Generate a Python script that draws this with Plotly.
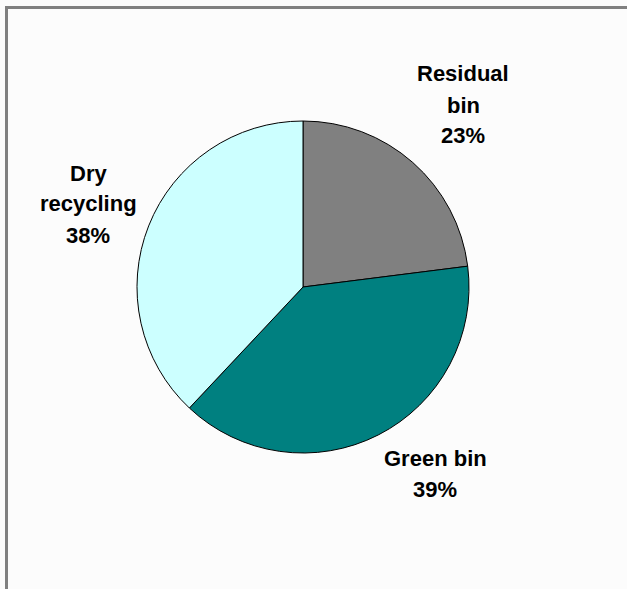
import plotly.graph_objects as go

labels = ["Residual bin", "Green bin", "Dry recycling"]
values = [23, 39, 38]
colors = ["#808080", "#008080", "#CCFFFF"]
label_lines = [["Residual", "bin", "23%"], ["Green bin", "39%"], ["Dry", "recycling", "38%"]]

W, H = 627, 589
cx, cy, r = 303, 287, 166

fig = go.Figure(go.Pie(
    labels=labels, values=values, sort=False, direction="clockwise", rotation=0,
    marker=dict(colors=colors, line=dict(color="black", width=1)),
    textinfo="none", hoverinfo="label+percent", showlegend=False,
    domain=dict(x=[(cx - r) / W, (cx + r) / W], y=[1 - (cy + r) / H, 1 - (cy - r) / H]),
))

label_pos = [(463, 105), (435, 474), (88, 204)]
spacing = 31
for lines, (px, py) in zip(label_lines, label_pos):
    n = len(lines)
    for i, line in enumerate(lines):
        ly = py + (i - (n - 1) / 2) * spacing
        fig.add_annotation(x=px / W, y=1 - ly / H, xref="paper", yref="paper",
                           text="<b>" + line + "</b>",
                           showarrow=False, xanchor="center", yanchor="middle",
                           font=dict(family="Liberation Sans, Arial, sans-serif", size=22, color="black"))

fig.add_shape(type="line", xref="paper", yref="paper", x0=5 / W, x1=1, y0=1 - 7.5 / H, y1=1 - 7.5 / H,
              line=dict(color="#808080", width=3))
fig.add_shape(type="line", xref="paper", yref="paper", x0=6.5 / W, x1=6.5 / W, y0=0, y1=1 - 6 / H,
              line=dict(color="#808080", width=3))

fig.update_layout(width=W, height=H, margin=dict(l=0, r=0, t=0, b=0),
                  paper_bgcolor="#FCFCFC", plot_bgcolor="#FCFCFC")
fig.write_html("out.html", config={"displayModeBar": False},
               post_script="document.body.style.margin='0';document.body.style.overflow='hidden';")
